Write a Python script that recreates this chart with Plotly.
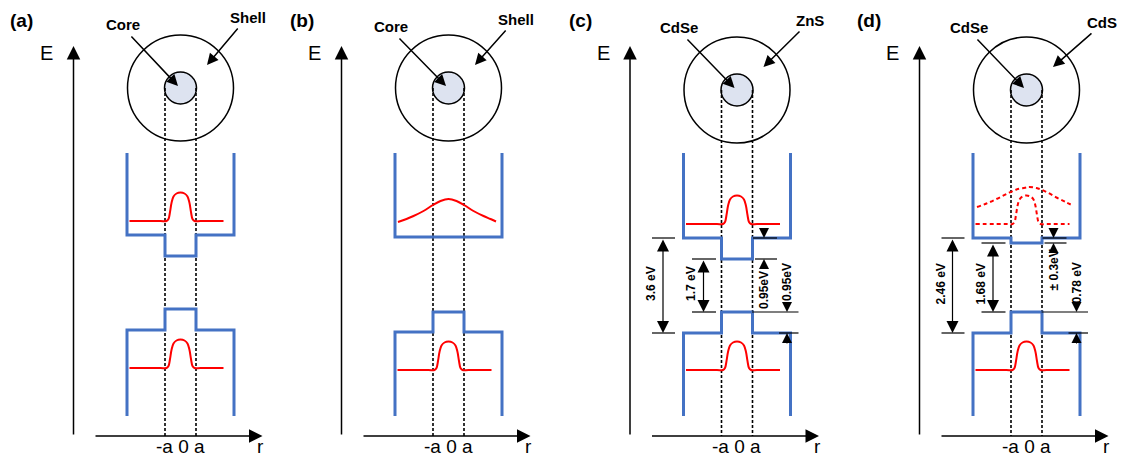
import plotly.graph_objects as go

W, H = 1124, 459

# ---------------- data (schematic values) ----------------
PANEL_TAGS = ["(a)", "(b)", "(c)", "(d)"]
CORE_NAMES = ["Core", "Core", "CdSe", "CdSe"]
SHELL_NAMES = ["Shell", "Shell", "ZnS", "CdS"]
CENTRES = [180.5, 448.5, 737.0, 1026.5]
TAG_X = [21.5, 301.5, 580.5, 869.0]
CIRCLE_Y = [88, 88, 90, 90]

CORE_LABEL_DX = [-57.5, -57.5, -58, -57.5]
CORE_LABEL_Y = [24, 26, 27, 27]
SHELL_LABEL_DX = [67.5, 67.5, 73, 75.5]
SHELL_LABEL_Y = [17, 19, 20, 22]

# band edges (drawing units, downward)
CB_SHELL = [235, 237, 238, 238]
CB_CORE = [256, 237, 259, 243]
VB_CORE = [309, 312, 312, 312]
VB_SHELL = [330, 332, 333, 333]
CB_WAVE_BASE = [221, 222, 224, 224]
VB_WAVE_BASE = [368, 370, 370, 370]
CB_WAVE_KIND = ["narrow", "broad", "narrow", "dashed"]

# wavefunction sample points (offset from centre, height above base)
NARROW_X = [-51, -20, -14, -12, -10.5, -9, -7, -4, 0, 4, 7, 9, 10.5, 12, 14, 20, 43]
NARROW_H = [0, 0, 0, 2, 9, 18, 24.5, 27.5, 28.5, 27.5, 24.5, 18, 9, 2, 0, 0, 0]
BROAD_X = [-50.5, -42, -35, -25, -15.5, -8, 0, 8, 15.5, 25, 35, 42, 47.5]
BROAD_H = [0, 3, 6, 11, 17, 21, 23, 21, 17, 11, 6, 3, 0.5]
DASHED_BROAD_X = [-49.5, -40, -30, -20, -10, 0, 2, 10, 20, 30, 40, 46.5]
DASHED_BROAD_H = [0, 3.5, 8, 13, 17.5, 19.5, 20, 19, 15, 9.5, 4.5, 1.5]

# energy annotations for panels (c) and (d)
GAP_PANELS = [2, 3]
SHELL_GAP_LABEL = ["3.6 eV", "2.46 eV"]
CORE_GAP_LABEL = ["1.7 eV", "1.68 eV"]
CB_OFFSET_LABEL = ["0.95eV", "± 0.3eV"]
VB_OFFSET_LABEL = ["0.95eV", "0.78 eV"]
CB_OFFSET_TEXT_Y = [290, 270]
VB_OFFSET_TEXT_Y = [282, 283]

# ---------------- style ----------------
BLUE = "#4472C4"
RED = "#FF0000"
CORE_FILL = "#DDE3F0"
FONT = "Liberation Sans, Arial, sans-serif"
HALF_CORE = 15.5
HALF_WELL = 53.5
WELL_TOP = 153
WELL_BOTTOM = 416
SHELL_R = 53
CORE_R = 16
AXIS_Y = 436

fig = go.Figure()
shapes = []
ann = []


def line_trace(xs, ys, color, width, dash=None, shape="linear"):
    fig.add_trace(go.Scatter(x=xs, y=ys, mode="lines",
                             line=dict(color=color, width=width, dash=dash, shape=shape,
                                       smoothing=1.0 if shape == "spline" else None),
                             hoverinfo="skip", showlegend=False))


def arrow(tx, ty, sx, sy, width=1.2, size=2.0, both=False):
    d = dict(x=tx, y=ty, ax=sx, ay=sy, xref="x", yref="y", axref="x", ayref="y",
             text="", showarrow=True, arrowhead=2, arrowsize=size, arrowwidth=width,
             arrowcolor="black", standoff=0)
    if both:
        d.update(arrowside="end+start", startarrowhead=2, startarrowsize=size, startstandoff=0)
    ann.append(d)


def text(x, y, s, size, bold=False, angle=0, yanchor="middle"):
    ann.append(dict(x=x, y=y, xref="x", yref="y", text=("<b>%s</b>" % s) if bold else s,
                    showarrow=False, font=dict(family=FONT, size=size, color="black"),
                    textangle=angle, xanchor="center", yanchor=yanchor, borderpad=0))


def hline(x0, x1, y, color="black", width=1.2):
    shapes.append(dict(type="line", xref="x", yref="y", x0=x0, x1=x1, y0=y, y1=y,
                       line=dict(color=color, width=width), layer="above"))


for i, c in enumerate(CENTRES):
    cy = CIRCLE_Y[i]
    # circles
    shapes.append(dict(type="circle", xref="x", yref="y", x0=c - SHELL_R, x1=c + SHELL_R,
                       y0=cy - SHELL_R, y1=cy + SHELL_R, line=dict(color="black", width=1.5),
                       layer="below"))
    shapes.append(dict(type="circle", xref="x", yref="y", x0=c - CORE_R, x1=c + CORE_R,
                       y0=cy - CORE_R, y1=cy + CORE_R, fillcolor=CORE_FILL,
                       line=dict(color="black", width=1.5), layer="below"))
    # dotted guide lines at -a, a
    for sgn in (-1, 1):
        shapes.append(dict(type="line", xref="x", yref="y", x0=c + sgn * HALF_CORE,
                           x1=c + sgn * HALF_CORE, y0=cy, y1=AXIS_Y,
                           line=dict(color="black", width=1.6, dash="3px,2px"), layer="below"))
    # conduction band
    line_trace([c - HALF_WELL, c - HALF_WELL, c - HALF_CORE, c - HALF_CORE,
                c + HALF_CORE, c + HALF_CORE, c + HALF_WELL, c + HALF_WELL],
               [WELL_TOP, CB_SHELL[i], CB_SHELL[i], CB_CORE[i], CB_CORE[i],
                CB_SHELL[i], CB_SHELL[i], WELL_TOP], BLUE, 3)
    # valence band
    line_trace([c - HALF_WELL, c - HALF_WELL, c - HALF_CORE, c - HALF_CORE,
                c + HALF_CORE, c + HALF_CORE, c + HALF_WELL, c + HALF_WELL],
               [WELL_BOTTOM, VB_SHELL[i], VB_SHELL[i], VB_CORE[i], VB_CORE[i],
                VB_SHELL[i], VB_SHELL[i], WELL_BOTTOM], BLUE, 3)
    # wavefunctions
    kind = CB_WAVE_KIND[i]
    if kind == "narrow":
        line_trace([c + x for x in NARROW_X], [CB_WAVE_BASE[i] - h for h in NARROW_H],
                   RED, 2, shape="spline")
    elif kind == "broad":
        line_trace([c + x for x in BROAD_X], [CB_WAVE_BASE[i] - h for h in BROAD_H],
                   RED, 2, shape="spline")
    else:
        line_trace([c + x for x in NARROW_X], [CB_WAVE_BASE[i] - h for h in NARROW_H],
                   RED, 2, dash="4px,3px", shape="spline")
        line_trace([c + x for x in DASHED_BROAD_X], [207 - h for h in DASHED_BROAD_H],
                   RED, 2, dash="4px,3px", shape="spline")
    line_trace([c + x for x in NARROW_X], [VB_WAVE_BASE[i] - h for h in NARROW_H],
               RED, 2, shape="spline")

    # axes arrows
    ex = c - 107
    arrow(ex, 46, ex, AXIS_Y, width=1.5, size=1.8)
    arrow(c + 82, AXIS_Y, c - 86.5, AXIS_Y, width=1.5, size=1.8)
    text(ex - 27, 53, "E", 20)
    text(c + 80, 458, "r", 19, yanchor="bottom")
    text(c - 0.5, 458, "-a 0 a", 19, yanchor="bottom")
    text(TAG_X[i], 20, PANEL_TAGS[i], 19, bold=True)

    # labels with arrows
    text(c + CORE_LABEL_DX[i], CORE_LABEL_Y[i], CORE_NAMES[i], 15, bold=True)
    text(c + SHELL_LABEL_DX[i], SHELL_LABEL_Y[i], SHELL_NAMES[i], 15, bold=True)
    arrow(c - 2.5, cy - 2, c + CORE_LABEL_DX[i] + 7, CORE_LABEL_Y[i] + 11, width=1.5, size=1.5)
    arrow(c + 26.5, cy - 23, c + SHELL_LABEL_DX[i] - 9, SHELL_LABEL_Y[i] + 10, width=1.5, size=1.5)

# energy dimension marks
for k, i in enumerate(GAP_PANELS):
    c = CENTRES[i]
    # shell gap
    hline(c - 85, c - 62, CB_SHELL[i])
    hline(c - 85, c - 62, VB_SHELL[i])
    arrow(c - 74, VB_SHELL[i], c - 74, CB_SHELL[i], both=True)
    text(c - 86, 284, SHELL_GAP_LABEL[k], 12, bold=True, angle=-90)
    # core gap
    hline(c - 45, c - 21, CB_CORE[i])
    hline(c - 45, c - 21, VB_CORE[i])
    arrow(c - 33.5, VB_CORE[i], c - 33.5, CB_CORE[i], both=True)
    text(c - 46, 284, CORE_GAP_LABEL[k], 12, bold=True, angle=-90)
    # conduction band offset
    xo = c + 27
    hline(c + 16, c + 40, CB_SHELL[i])
    hline(c + 18, c + 40, CB_CORE[i])
    arrow(xo, CB_SHELL[i], xo, CB_SHELL[i] - 11, width=1.0, size=2.0)
    arrow(xo, CB_CORE[i], xo, CB_CORE[i] + 10, width=1.0, size=2.0)
    text(xo, CB_OFFSET_TEXT_Y[k], CB_OFFSET_LABEL[k], 12, bold=True, angle=-90)
    # valence band offset
    xv = c + 50
    hline(c + 15, c + 61.5, VB_CORE[i])
    hline(c + 42, c + 61.5, VB_SHELL[i])
    arrow(xv, VB_CORE[i], xv, VB_CORE[i] - 10, width=1.0, size=2.0)
    arrow(xv, VB_SHELL[i], xv, VB_SHELL[i] + 12, width=1.0, size=2.0)
    text(xv, VB_OFFSET_TEXT_Y[k], VB_OFFSET_LABEL[k], 12, bold=True, angle=-90)

fig.update_layout(
    width=W, height=H, margin=dict(l=0, r=0, t=0, b=0),
    paper_bgcolor="white", plot_bgcolor="white",
    xaxis=dict(range=[0, W], visible=False, showgrid=False, zeroline=False, fixedrange=True),
    yaxis=dict(range=[H, 0], visible=False, showgrid=False, zeroline=False, fixedrange=True),
    shapes=shapes, annotations=ann, showlegend=False,
)
fig.write_html("out.html", config={"displayModeBar": False},
               post_script="document.body.style.margin='0';document.body.style.overflow='hidden';")
